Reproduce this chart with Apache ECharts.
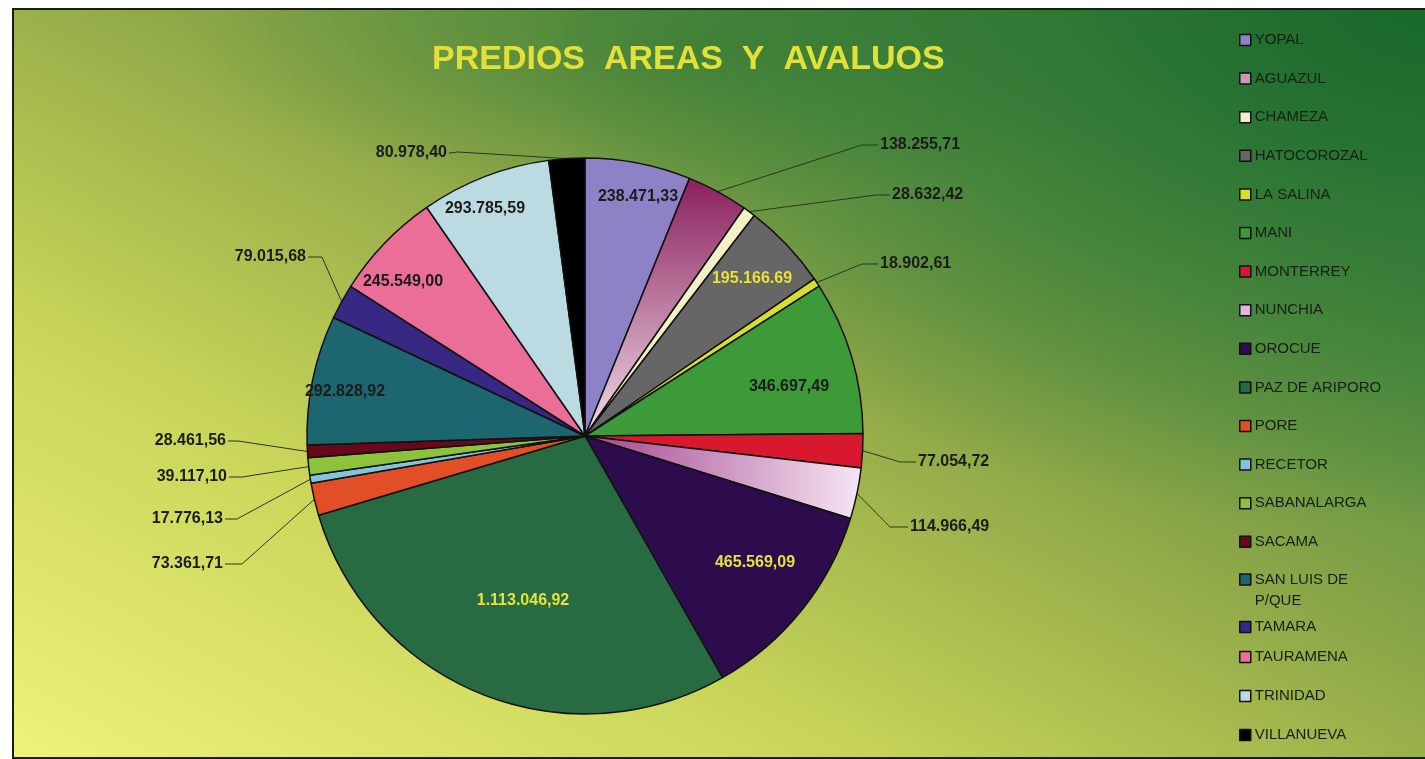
<!DOCTYPE html>
<html>
<head>
<meta charset="utf-8">
<script src="https://cdn.jsdelivr.net/npm/echarts@6/dist/echarts.min.js"></script>
<style>
  html, body { margin: 0; padding: 0; background: #fff; }
  #frame {
    position: absolute; left: 12px; top: 8px; width: 1413px; height: 747px;
    border-left: 2px solid #1a1a1a; border-top: 2px solid #1a1a1a; border-bottom: 2px solid #1a1a1a;
    background:
      radial-gradient(ellipse 900px 520px at 100% 0%, rgba(24,104,44,0.95) 0%, rgba(40,115,50,0.6) 45%, rgba(60,120,50,0) 100%),
      radial-gradient(ellipse 500px 160px at 48% 5%, rgba(50,120,50,0.55) 0%, rgba(50,120,50,0) 100%),
      linear-gradient(to top right, #eef27a 0%, #c8d458 30%, #8fa848 55%, #4c8a40 80%, #2a7434 100%);
  }
  #chart { position: absolute; left: 0; top: 0; width: 1425px; height: 759px; }
</style>
</head>
<body>
<div id="frame"></div>
<div id="chart"></div>
<script>
const names = ['YOPAL', 'AGUAZUL', 'CHAMEZA', 'HATOCOROZAL', 'LA SALINA', 'MANI', 'MONTERREY',
  'NUNCHIA', 'OROCUE', 'PAZ DE ARIPORO', 'PORE', 'RECETOR', 'SABANALARGA', 'SACAMA',
  'SAN LUIS DE P/QUE', 'TAMARA', 'TAURAMENA', 'TRINIDAD', 'VILLANUEVA']
const values = [238471.33, 138255.71, 28632.42, 195166.69, 18902.61, 346697.49, 77054.72,
  114966.49, 465569.09, 1113046.92, 73361.71, 17776.13, 39117.10, 28461.56,
  292828.92, 79015.68, 245549.00, 293785.59, 80978.40]
// the printed label for Hatocorozal uses dots only
const textOverride = { 'HATOCOROZAL': '195.166.69' }

const colors = [
  '#8d82c6',
  { type: 'linear', x: 0, y: 0, x2: 0, y2: 1, colorStops: [{ offset: 0, color: '#8a1f5c' }, { offset: 1, color: '#efdde8' }] },
  '#f2f0c4', '#666666', '#d8de2c', '#3c9a38', '#d8182e',
  { type: 'linear', x: 0, y: 0, x2: 1, y2: 0, colorStops: [{ offset: 0, color: '#a2448e' }, { offset: 1, color: '#f6e6f4' }] },
  '#2c0c4c', '#286a42', '#e24e26', '#84c4da', '#8cc23c', '#68091a',
  '#1d6670', '#372884', '#ea6e98', '#bcdae2', '#000000'
]
const legendColors = ['#8d82c6', '#c89ab4', '#f2f0c4', '#666666', '#d8de2c', '#3c9a38', '#d8182e',
  '#e4b4e0', '#2c0c4c', '#286a42', '#e24e26', '#84c4da', '#8cc23c', '#68091a',
  '#1d6670', '#372884', '#ea6e98', '#bcdae2', '#000000']
const yellowText = ['HATOCOROZAL', 'OROCUE', 'PAZ DE ARIPORO']

// label placement: inside labels [x, y]; outside labels [x, y, align, bendX, bendY]
const insideAt = {
  'YOPAL': [638, 197], 'HATOCOROZAL': [752, 279], 'MANI': [789, 387], 'OROCUE': [755, 563],
  'PAZ DE ARIPORO': [523, 601], 'SAN LUIS DE P/QUE': [345, 392], 'TAURAMENA': [403, 282], 'TRINIDAD': [485, 209]
}
const outsideAt = {
  'VILLANUEVA': [447, 153, 'right', 458, 152],
  'AGUAZUL': [880, 145, 'left', 862, 145],
  'CHAMEZA': [892, 195, 'left', 876, 195],
  'LA SALINA': [880, 264, 'left', 862, 264],
  'MONTERREY': [918, 462, 'left', 900, 462],
  'NUNCHIA': [910, 527, 'left', 890, 527],
  'SACAMA': [226, 441, 'right', 238, 441],
  'SABANALARGA': [227, 477, 'right', 242, 477],
  'RECETOR': [223, 519, 'right', 237, 519],
  'PORE': [223, 564, 'right', 242, 564],
  'TAMARA': [306, 257, 'right', 322, 257]
}

function fmt(v, name) {
  if (textOverride[name]) return textOverride[name]
  const parts = v.toFixed(2).split('.')
  return parts[0].replace(/\B(?=(\d{3})+(?!\d))/g, '.') + ',' + parts[1]
}

const FONT = '"Liberation Sans", Arial, sans-serif'

const pieData = names.map((n, i) => {
  const inside = !!insideAt[n]
  return {
    name: n,
    value: values[i],
    itemStyle: { color: colors[i] },
    label: {
      position: inside ? 'inside' : 'outside',
      color: yellowText.includes(n) ? '#e6e23a' : '#1b1b1b'
    },
    labelLine: { show: !inside }
  }
})

const myChart = echarts.init(document.getElementById('chart'))

function makeLegend(list, top, gap, formatter, lineHeight) {
  return {
    orient: 'vertical',
    left: 1239,
    top: top,
    padding: 0,
    itemGap: gap,
    itemWidth: 11,
    itemHeight: 11,
    icon: 'rect',
    selectedMode: false,
    data: list.map(n => ({ name: n, itemStyle: { color: legendColors[names.indexOf(n)], borderColor: '#111', borderWidth: 1.5 } })),
    formatter: formatter,
    textStyle: { color: '#142010', fontSize: 15, fontFamily: FONT, lineHeight: lineHeight, padding: [0, 0, 0, -1] }
  }
}

myChart.setOption({
  backgroundColor: 'transparent',
  title: {
    text: 'PREDIOS  AREAS  Y  AVALUOS',
    left: 432,
    top: 43,
    padding: 0,
    textStyle: { color: '#e2e03a', fontSize: 34, fontWeight: 'bold', fontFamily: FONT }
  },
  legend: [
    makeLegend(names.slice(0, 14), 32.5, 23.6, '{name}', 15),
    makeLegend(['SAN LUIS DE P/QUE'], 548, 0, () => '\nSAN LUIS DE\nP/QUE', 21),
    makeLegend(['TAMARA', 'TAURAMENA'], 619.5, 15, '{name}', 15),
    makeLegend(['TRINIDAD', 'VILLANUEVA'], 688.5, 24, '{name}', 15)
  ],
  series: [
    {
      type: 'pie',
      center: [585, 436],
      radius: 278,
      startAngle: 90,
      clockwise: true,
      avoidLabelOverlap: false,
      silent: true,
      itemStyle: { borderColor: '#111', borderWidth: 1.5 },
      label: {
        show: true,
        fontSize: 16,
        fontWeight: 'bold',
        fontFamily: FONT,
        formatter: p => fmt(p.value, p.name)
      },
      labelLine: { show: true, length: 20, length2: 20, lineStyle: { color: '#2b3620', width: 1 } },
      labelLayout: function (params) {
        const n = names[params.dataIndex]
        if (insideAt[n]) {
          return { x: insideAt[n][0], y: insideAt[n][1], align: 'center', verticalAlign: 'middle' }
        }
        const o = outsideAt[n]
        const edge = params.labelLinePoints ? params.labelLinePoints[0] : [o[3], o[4]]
        const endX = o[2] === 'left' ? o[0] - 2 : o[0] + 2
        return {
          x: o[0], y: o[1], align: o[2], verticalAlign: 'middle',
          labelLinePoints: [edge, [o[3], o[4]], [endX, o[1]]]
        }
      },
      data: pieData
    }
  ]
})
</script>
</body>
</html>
